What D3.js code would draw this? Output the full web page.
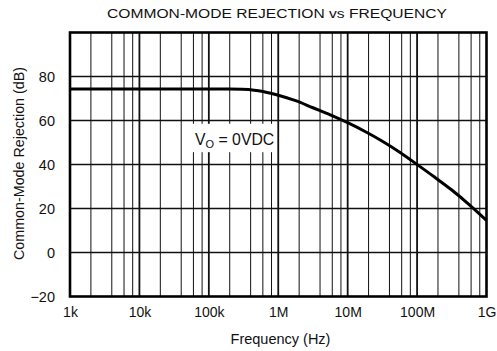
<!DOCTYPE html>
<html>
<head>
<meta charset="utf-8">
<script src="https://cdn.jsdelivr.net/npm/d3@7/dist/d3.min.js"></script>
<style>
  html, body { margin: 0; padding: 0; background: #fff; }
  svg { display: block; font-family: "Liberation Sans", Arial, Helvetica, sans-serif; }
</style>
</head>
<body>
<svg id="chart" width="497" height="351"></svg>
<script>
// Common-mode rejection (dB) against frequency (Hz)
const freqHz = [1e3, 1e4, 1e5, 2e5, 3e5, 4.5e5, 6e5, 1e6, 1.78e6, 3.16e6, 5.62e6, 1e7, 1.78e7, 3.16e7, 5.62e7, 1e8, 1.78e8, 3.16e8, 5.62e8, 1e9];
const cmrDb  = [74.3, 74.3, 74.3, 74.3, 74.2, 73.8, 73.2, 71.5, 69.0, 65.8, 62.6, 59.0, 55.0, 50.6, 45.6, 40.0, 34.3, 28.4, 21.8, 14.6];

const xTickValues = [1e3, 1e4, 1e5, 1e6, 1e7, 1e8, 1e9];
const xTickLabels = ["1k", "10k", "100k", "1M", "10M", "100M", "1G"];
const yTickValues = [-20, 0, 20, 40, 60, 80];
const gridMultipliers = [2, 4, 6, 8];

const titleText = "COMMON-MODE REJECTION vs FREQUENCY";
const xTitle = "Frequency (Hz)";
const yTitle = "Common-Mode Rejection (dB)";

const svg = d3.select("#chart");
const m = { left: 70, top: 32.5, right: 486.5, bottom: 296.5 };

const x = d3.scaleLog().domain([1e3, 1e9]).range([m.left, m.right]);
const y = d3.scaleLinear().domain([-20, 100]).range([m.bottom, m.top]);

// minor vertical grid at 2, 4, 6, 8 of each decade
const minorX = [];
for (let d = 1e3; d < 1e9; d *= 10) gridMultipliers.forEach(k => minorX.push(d * k));

const grid = svg.append("g").attr("stroke", "#111");
grid.selectAll("line.minor").data(minorX).join("line")
  .attr("class", "minor")
  .attr("x1", d => x(d)).attr("x2", d => x(d))
  .attr("y1", m.top).attr("y2", m.bottom)
  .attr("stroke-width", 1);
grid.selectAll("line.decade").data(xTickValues.slice(1, -1)).join("line")
  .attr("class", "decade")
  .attr("x1", d => x(d)).attr("x2", d => x(d))
  .attr("y1", m.top).attr("y2", m.bottom)
  .attr("stroke-width", 1.8);
grid.selectAll("line.h").data(yTickValues.slice(1)).join("line")
  .attr("class", "h")
  .attr("x1", m.left).attr("x2", m.right)
  .attr("y1", d => y(d)).attr("y2", d => y(d))
  .attr("stroke-width", 1.3);

// condition label with a white panel over the grid
const note = svg.append("g");
note.append("rect")
  .attr("x", x(4.6e4)).attr("y", y(58.5))
  .attr("width", x(9.3e5) - x(4.6e4)).attr("height", y(45.6) - y(58.5))
  .attr("fill", "#fff");
const noteText = note.append("text")
  .attr("x", 195).attr("y", 144.5)
  .attr("font-size", 15.8).attr("fill", "#111");
noteText.append("tspan").text("V");
noteText.append("tspan").attr("font-size", 11).attr("dy", 3).text("O");
noteText.append("tspan").attr("dy", -3).text(" = 0VDC");

// rejection curve
const line = d3.line()
  .x((d, i) => x(freqHz[i]))
  .y(d => y(d))
  .curve(d3.curveMonotoneX);
svg.append("path")
  .datum(cmrDb)
  .attr("d", line)
  .attr("fill", "none")
  .attr("stroke", "#000")
  .attr("stroke-width", 3);

// plot frame
svg.append("rect")
  .attr("x", m.left).attr("y", m.top)
  .attr("width", m.right - m.left).attr("height", m.bottom - m.top)
  .attr("fill", "none").attr("stroke", "#000").attr("stroke-width", 2.6);

// axes (labels only; the frame carries the lines)
const xAxis = d3.axisBottom(x).tickValues(xTickValues)
  .tickFormat((d, i) => xTickLabels[i]).tickSize(0).tickPadding(11);
const xg = svg.append("g").attr("transform", `translate(0,${m.bottom})`).call(xAxis);
xg.select(".domain").remove();
xg.selectAll("text").attr("font-size", 14).attr("fill", "#111")
  .attr("font-family", "'Liberation Sans', Arial, sans-serif");

const yAxis = d3.axisLeft(y).tickValues(yTickValues)
  .tickFormat(d => d < 0 ? "\u2212" + Math.abs(d) : d).tickSize(0).tickPadding(15);
const yg = svg.append("g").attr("transform", `translate(${m.left},0)`).call(yAxis);
yg.select(".domain").remove();
yg.selectAll("text").attr("font-size", 14.5).attr("fill", "#111")
  .attr("font-family", "'Liberation Sans', Arial, sans-serif");

// title: wide sans caps, stretched horizontally to span 340px
const titleG = svg.append("g");
const title = titleG.append("text").attr("x", 0).attr("y", 0)
  .attr("text-anchor", "middle").attr("font-size", 13).attr("fill", "#111")
  .text(titleText);
const titleW = title.node().getComputedTextLength();
titleG.attr("transform", `translate(277,18.3) scale(${340 / titleW},1)`);

svg.append("text").attr("x", 280.5).attr("y", 344)
  .attr("text-anchor", "middle").attr("font-size", 14.5).attr("fill", "#111")
  .text(xTitle);
svg.append("text")
  .attr("transform", `translate(23.5,${(m.top + m.bottom) / 2 - 1}) rotate(-90)`)
  .attr("text-anchor", "middle").attr("font-size", 14.3).attr("fill", "#111")
  .text(yTitle);
</script>
</body>
</html>
